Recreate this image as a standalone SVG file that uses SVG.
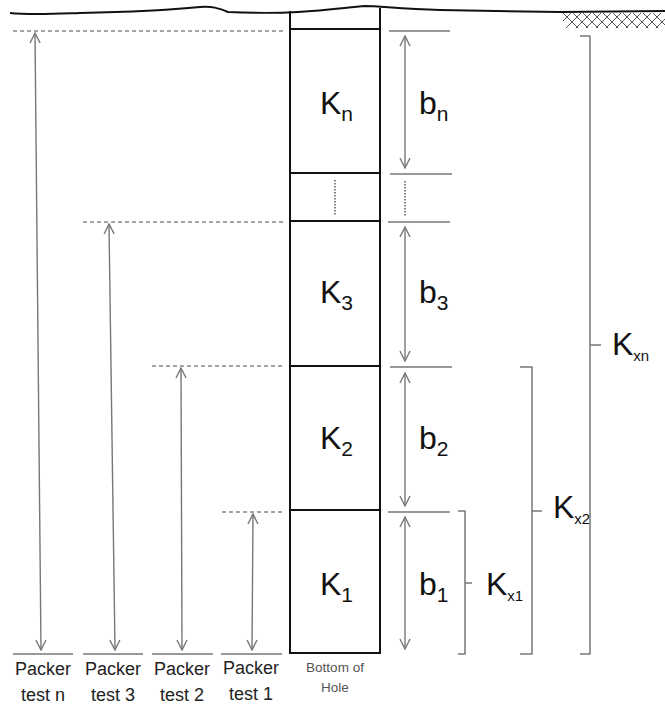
<svg xmlns="http://www.w3.org/2000/svg" width="665" height="706" viewBox="0 0 665 706">
<style>
.wall{stroke:#111;stroke-width:2;fill:none}
.dash{stroke:#888;stroke-width:1.5;stroke-dasharray:4 3;fill:none}
.dot{stroke:#555;stroke-width:1.5;stroke-dasharray:1.5 1.5;fill:none}
.tick{stroke:#777;stroke-width:1.5;fill:none}
.arr{stroke:#777;stroke-width:1.4;fill:none;marker-start:url(#ah);marker-end:url(#ah)}
.brk{stroke:#777;stroke-width:1.5;fill:none;stroke-linejoin:round}
.big{font-family:"Liberation Sans",Arial,sans-serif;font-size:32px;fill:#111}
.sub{font-size:21px}
.sub2{font-size:15px}
.lab{font-family:"Liberation Sans",Arial,sans-serif;font-size:18px;fill:#222;text-anchor:middle}
.small{font-family:"Liberation Sans",Arial,sans-serif;font-size:13.5px;fill:#555;text-anchor:middle}
</style>
<defs>
<marker id="ah" viewBox="0 0 12 12" refX="11" refY="6" markerWidth="12" markerHeight="12" markerUnits="userSpaceOnUse" orient="auto-start-reverse">
<path d="M1,1 L11,6 L1,11" fill="none" stroke="#777" stroke-width="1.4"/>
</marker>
<clipPath id="hc"><rect x="563" y="13" width="102" height="15"/></clipPath>
</defs>
<g id="ground">
<path d="M10,13 C30,15 50,14 80,13 C130,12 170,10 200,7 C212,6 218,8 228,12 C250,13 280,13 298,12 C330,10 350,7 365,6 C380,6 400,9 440,10 L560,12 L665,11" stroke="#111" stroke-width="2" fill="none"/>
<g clip-path="url(#hc)" stroke="#555" stroke-width="1">
<path d="M556,28 L571,13 M566,28 L581,13 M576,28 L591,13 M586,28 L601,13 M596,28 L611,13 M606,28 L621,13 M616,28 L631,13 M626,28 L641,13 M636,28 L651,13 M646,28 L661,13 M656,28 L671,13"/>
<path d="M563,13 L578,28 M573,13 L588,28 M583,13 L598,28 M593,13 L608,28 M603,13 L618,28 M613,13 L628,28 M623,13 L638,28 M633,13 L648,28 M643,13 L658,28 M653,13 L668,28"/>
</g>
</g>
<g id="hole">
<line class="wall" x1="290" y1="11" x2="290" y2="653"/>
<line class="wall" x1="380" y1="8" x2="380" y2="653"/>
<line class="wall" x1="289" y1="653" x2="381" y2="653"/>
</g>
<g id="Kn"><line class="wall" x1="290" y1="29" x2="380" y2="29"/><text class="big" x="320" y="114">K<tspan class="sub" dy="7">n</tspan></text></g>
<g id="Kdots"><line class="wall" x1="290" y1="173" x2="380" y2="173"/><line class="dot" x1="335" y1="180" x2="335" y2="216"/></g>
<g id="K3"><line class="wall" x1="290" y1="221" x2="380" y2="221"/><text class="big" x="320" y="303">K<tspan class="sub" dy="7">3</tspan></text></g>
<g id="K2"><line class="wall" x1="290" y1="366" x2="380" y2="366"/><text class="big" x="320" y="449">K<tspan class="sub" dy="7">2</tspan></text></g>
<g id="K1"><line class="wall" x1="290" y1="510" x2="380" y2="510"/><text class="big" x="320" y="595">K<tspan class="sub" dy="7">1</tspan></text></g>
<g id="b-markers">
<line class="tick" x1="389" y1="31" x2="450" y2="31"/>
<line class="tick" x1="390" y1="174" x2="452" y2="174"/>
<line class="tick" x1="388" y1="222" x2="450" y2="222"/>
<line class="tick" x1="390" y1="367" x2="452" y2="367"/>
<line class="tick" x1="388" y1="512" x2="450" y2="512"/>
<line class="dot" x1="405" y1="181" x2="405" y2="217"/>
</g>
<g id="connectors">
<line class="arr" x1="405" y1="36" x2="405" y2="168"/>
<line class="arr" x1="405" y1="227" x2="405" y2="361"/>
<line class="arr" x1="405" y1="373" x2="405" y2="506"/>
<line class="arr" x1="405" y1="517" x2="405" y2="649"/>
<line class="arr" x1="35" y1="33" x2="41" y2="650"/>
<line class="arr" x1="109" y1="224" x2="115" y2="650"/>
<line class="arr" x1="181" y1="368" x2="182" y2="650"/>
<line class="arr" x1="253" y1="514" x2="252" y2="650"/>
</g>
<g id="bn"><text class="big" x="419" y="114">b<tspan class="sub" dy="7">n</tspan></text></g>
<g id="b3"><text class="big" x="419" y="303">b<tspan class="sub" dy="7">3</tspan></text></g>
<g id="b2"><text class="big" x="419" y="449">b<tspan class="sub" dy="7">2</tspan></text></g>
<g id="b1"><text class="big" x="419" y="595">b<tspan class="sub" dy="7">1</tspan></text></g>
<g id="levels">
<line class="dash" x1="13" y1="31" x2="283" y2="31"/>
<line class="dash" x1="83" y1="222" x2="283" y2="222"/>
<line class="dash" x1="152" y1="366" x2="283" y2="366"/>
<line class="dash" x1="222" y1="512" x2="283" y2="512"/>
</g>
<g id="Kx1">
<path class="brk" d="M458,511 L465,511 L465,583 L472,583 M465,583 L465,654 L458,654"/>
<text class="big" x="486" y="595">K<tspan class="sub2" dy="6">x1</tspan></text>
</g>
<g id="Kx2">
<path class="brk" d="M520,367 L532,367 L532,511 L542,511 M532,511 L532,654 L520,654"/>
<text class="big" x="553" y="518">K<tspan class="sub2" dy="6">x2</tspan></text>
</g>
<g id="Kxn">
<path class="brk" d="M580,36 L590,36 L590,345 L601,345 M590,345 L590,654 L580,654"/>
<text class="big" x="612" y="355">K<tspan class="sub2" dy="6">xn</tspan></text>
</g>
<g id="packer-n"><line class="tick" x1="13" y1="654" x2="73" y2="654"/><text class="lab" x="43" y="675">Packer</text><text class="lab" x="43" y="701">test n</text></g>
<g id="packer-3"><line class="tick" x1="83" y1="654" x2="143" y2="654"/><text class="lab" x="113" y="675">Packer</text><text class="lab" x="113" y="701">test 3</text></g>
<g id="packer-2"><line class="tick" x1="152" y1="654" x2="213" y2="654"/><text class="lab" x="182" y="675">Packer</text><text class="lab" x="182" y="701">test 2</text></g>
<g id="packer-1"><line class="tick" x1="221" y1="654" x2="282" y2="654"/><text class="lab" x="251" y="674">Packer</text><text class="lab" x="251" y="700">test 1</text></g>
<g id="bottom"><text class="small" x="335" y="672">Bottom of</text><text class="small" x="335" y="692">Hole</text></g>
</svg>
